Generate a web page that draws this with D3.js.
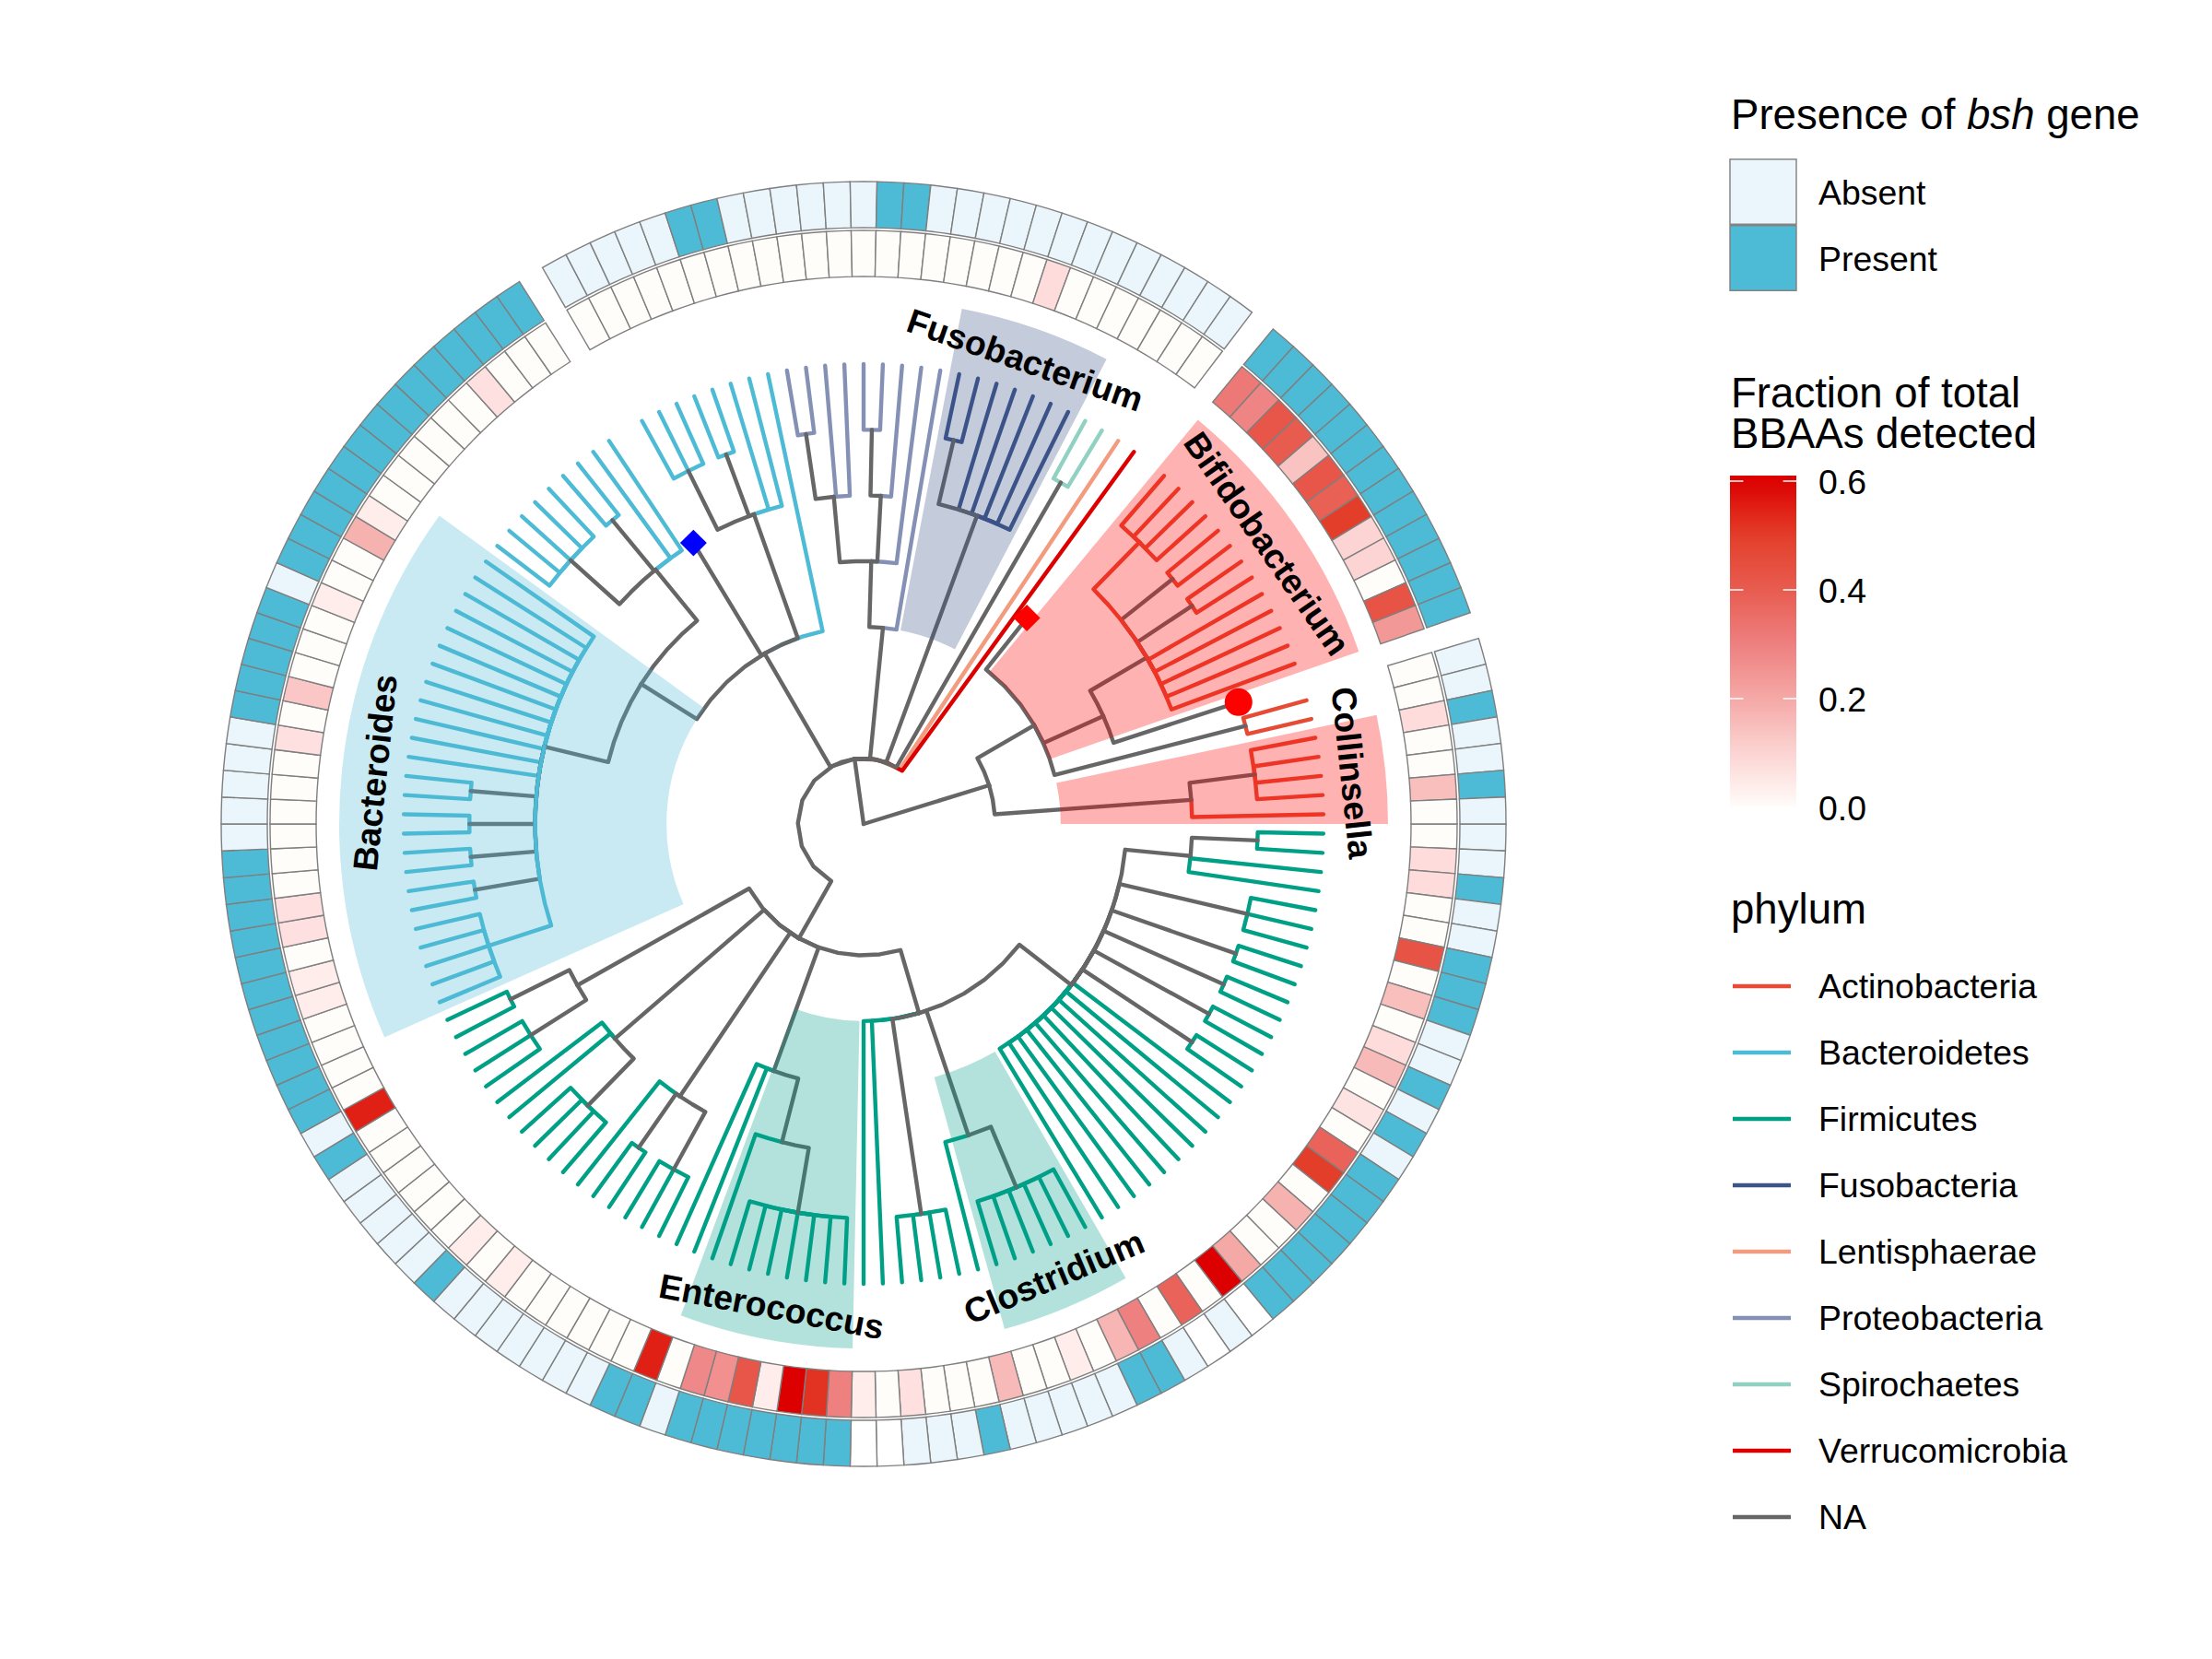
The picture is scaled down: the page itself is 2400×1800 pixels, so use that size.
<!DOCTYPE html>
<html>
<head>
<meta charset="utf-8">
<style>
html,body{margin:0;padding:0;background:#fff}
svg{display:block}
text{font-family:"Liberation Sans",Arial,sans-serif;fill:#000}
</style>
<script src="https://cdn.jsdelivr.net/npm/d3@7"></script>
</head>
<body>
<svg id="chart" width="2400" height="1800" viewBox="0 0 2400 1800"></svg>
<script>
// ---------- data ----------
const phylumNames  = ["Actinobacteria","Bacteroidetes","Firmicutes","Fusobacteria","Lentisphaerae","Proteobacteria","Spirochaetes","Verrucomicrobia","NA"];
const phylumColors = ["#E64B35","#4DBBD5","#00A087","#3C5488","#F39B7F","#8491B4","#91D1C2","#DC0000","#666666"];

// one value per leaf, clockwise from due east; null = no data for that leaf
const bbaaFraction = [
  0,.08,.08,0,0,.43,0,.15,0,.08,
  .16,0,.06,0,.38,.5,0,.18,0,0,
  .2,.6,0,.38,0,.3,.17,0,.04,0,
  0,.16,0,0,0,.07,0,.04,.3,.52,
  .6,.04,.42,.26,.28,0,.55,0,0,0,
  0,0,0,.04,0,.04,0,0,0,0,
  0,0,.55,0,0,0,0,.04,.04,0,
  .07,.07,0,0,0,0,0,0,.07,0,
  .13,0,0,0,.04,0,0,.18,.04,0,
  0,0,0,0,0,.07,0,0,0,null,
  0,0,0,0,0,0,0,0,0,0,
  0,0,0,0,0,0,0,0,0,0,
  .08,0,0,0,0,0,0,0,null,.32,
  .29,.42,.4,.14,.42,.39,.5,.1,.1,0,
  .43,.24,null,0,0,.08,0,0,.15,0
];
// A = absent, P = present, N = blank cell, - = no data
const bshStatus = Array.from(
  "AAPAAPPPAA"+"PAPAPPPPPP"+"PNANAPPAAA"+"AAPAAANNPP"+"PPPPPAPPAA"+
  "AAAAAPAAAA"+"APAPPPPPPP"+"PPPPAAAAAP"+"PPPPAPPPPP"+"PPPPPPPPP-"+
  "AAAAAPPAAA"+"AAAPPAAAAA"+"AAAAAAAA-P"+"PPPPPPPPPP"+"PP-AAPAAPA");
const bshLevels = ["Absent","Present"];
const bshFill   = {A:"#EAF6FB",P:"#4DBBD5",N:"#FFFFFF"};

// highlighted clades: first/last leaf (1-based) and inner tree level
const cladeNames  = ["Bacteroides","Fusobacterium","Bifidobacterium","Collinsella","Clostridium","Enterococcus"];
const cladeFirst  = [66,118,130,146,26,39];
const cladeLast   = [90,124,142,150,31,46];
const cladeLevel  = [3,3,3,3,4,3];
const cladeColor  = ["#4DBBD5","#3C5488","#FF0000","#FF0000","#00A087","#00A087"];

const heatTicks  = [0,.2,.4,.6];
const heatStops  = [0,.1,.2,.3,.4,.5,.6];
const heatColors = ["#FFFDFA","#FCD4D3","#F5A9A6","#EE8080","#E85C50","#E33E2A","#DC0000"];

// tree: node(level, phylum, ...children); leaves run clockwise from due east
const [Ac,Ba,Fi,Fu,Le,Pr,Sp,Ve,NA] = phylumNames;
const node = (level,phylum,...children)=>({level,phylum,children});
const tip  = (phylum,level=7,marker=null)=>({level,phylum,marker,tip:true});
const tips = (n,phylum)=>Array.from({length:n},()=>tip(phylum));

const firmA = node(4,NA,
  node(5,NA,node(6,NA,...tips(2,Fi)),...tips(2,Fi)),
  node(6,NA,...tips(3,Fi)),
  node(6,NA,...tips(2,Fi)),node(6,NA,...tips(2,Fi)),node(6,NA,...tips(2,Fi)),node(6,NA,...tips(2,Fi)),
  ...tips(10,Fi));
const firmB = node(3,NA,firmA,
  node(5,NA,node(6,NA,...tips(6,Fi)),tip(Fi)),
  node(6,NA,...tips(4,Fi)),tip(Fi),tip(Fi));
const firmC = node(4,NA,node(5,NA,node(6,NA,...tips(7,Fi)),tip(Fi)),tip(Fi),tip(Fi));
const firmD = node(5,NA,node(6,NA,...tips(3,Fi)),node(6,NA,...tips(2,Fi)),tip(Fi));
const firmE = node(5,NA,node(6,NA,...tips(4,Fi)),tip(Fi),tip(Fi));
const firmF = node(5,NA,node(6,NA,...tips(3,Fi)),node(6,NA,...tips(2,Fi)));
const firmicutes = node(2,NA,firmB,firmC,firmD,firmE,firmF);

const bactA = node(5,NA,node(6,Ba,...tips(5,Ba)),
  node(6,NA,...tips(2,Ba)),node(6,NA,...tips(2,Ba)),node(6,NA,...tips(2,Ba)),node(6,NA,...tips(2,Ba)),
  ...tips(12,Ba));
const bactB = node(5,NA,node(6,NA,...tips(5,Ba)),node(6,NA,...tips(2,Ba)),tip(Ba),tip(Ba));
const bactC = node(5,NA,node(6,NA,...tips(3,Ba)),node(6,NA,...tips(2,Ba)),tip(Ba),tip(Ba));
const bacteroidetes = node(3,NA,node(4,NA,bactA,bactB),tip(NA,5,"blueDiamond"),bactC,tip(Ba));

const proteo = node(3,NA,
  node(4,NA,
    node(5,NA,node(6,NA,...tips(2,Pr)),tip(Pr),tip(Pr)),
    node(5,NA,node(6,NA,...tips(2,Pr)),tip(Pr)),
    tip(Pr)),
  tip(Pr));
const fuso = node(5,NA,node(6,NA,...tips(2,Fu)),...tips(5,Fu));
const spiro = node(6,NA,...tips(2,Sp));

const bifido = node(5,NA,node(6,Ac,...tips(4,Ac)),node(6,NA,...tips(2,Ac)),node(6,NA,...tips(2,Ac)),...tips(5,Ac));
const actinoA = node(3,NA,tip(NA,4,"redDiamond"),node(4,NA,bifido,tip(NA,6,"redCircle")),node(6,NA,...tips(2,Ac)));
const actinoB = node(5,NA,node(6,NA,...tips(4,Ac)),tip(Ac));

const treeData = node(0,NA,
  node(1,NA,firmicutes,bacteroidetes,proteo,fuso,spiro,tip(Le),tip(Ve)),
  node(2,NA,actinoA,actinoB));

// ---------- scales ----------
const cx=937, cy=894;
const leafCount = bbaaFraction.length;
const angle  = d3.scaleLinear().domain([0,leafCount]).range([0,2*Math.PI]); // clockwise from east
const radius = d3.scaleLinear().domain([0,7]).range([0,499]);
const heat   = d3.scaleLinear().domain(heatStops).range(heatColors).interpolate(d3.interpolateRgb);
const phylumColor = d3.scaleOrdinal().domain(phylumNames).range(phylumColors);
const pt = (a,r)=>[r*Math.cos(a),r*Math.sin(a)];

const svg = d3.select("#chart");
const plot = svg.append("g").attr("transform",`translate(${cx},${cy})`);

// ---------- rings ----------
const ringArc = d3.arc();
function ring(values,inner,outer,fill){
  plot.append("g").selectAll("path")
    .data(values.map((v,i)=>({v,i})).filter(d=>d.v!==null && d.v!=="-"))
    .join("path")
    .attr("d",d=>ringArc({innerRadius:inner,outerRadius:outer,
        startAngle:angle(d.i)+Math.PI/2,endAngle:angle(d.i+1)+Math.PI/2}))
    .attr("fill",d=>fill(d.v))
    .attr("stroke","#7F7F7F").attr("stroke-width",1.4);
}
ring(bbaaFraction,594,644,v=>heat(v));
ring(bshStatus,647,697,v=>bshFill[v]);

// ---------- tree ----------
const root = d3.hierarchy(treeData);
root.leaves().forEach((l,i)=>{l.theta=angle(i+.5)});
root.eachAfter(n=>{ if(n.children) n.theta=d3.mean(n.children,c=>c.theta); });

function edgePath(n){
  const rp=radius(n.parent.data.level), rc=radius(n.data.level);
  const a0=n.parent.theta, a1=n.theta;
  const steps=Math.max(1,Math.ceil(Math.abs(a1-a0)*rp/27));
  const pts=d3.range(steps+1).map(i=>pt(a0+(a1-a0)*i/steps,rp));
  pts.push(pt(a1,rc));
  return d3.line()(pts);
}
const edges=root.descendants().filter(n=>n.parent);
const order=n=>n.data.tip?0:(n.data.phylum===NA?1:2);
plot.append("g").attr("fill","none").attr("stroke-width",4.4)
  .attr("stroke-linecap","round").attr("stroke-linejoin","round")
  .selectAll("path")
  .data(edges.slice().sort((a,b)=>order(a)-order(b)))
  .join("path")
  .attr("d",edgePath)
  .attr("stroke",n=>phylumColor(n.data.phylum));

// ---------- clade highlights ----------
const clades=cladeNames.map((name,i)=>({name,first:cladeFirst[i],last:cladeLast[i],level:cladeLevel[i],color:cladeColor[i]}));
plot.append("g").selectAll("path").data(clades).join("path")
  .attr("d",d=>ringArc({innerRadius:radius(d.level),outerRadius:569,
      startAngle:angle(d.first-1)+Math.PI/2,endAngle:angle(d.last)+Math.PI/2}))
  .attr("fill",d=>d.color).attr("fill-opacity",.3);

plot.append("g").selectAll("text").data(clades).join("text")
  .attr("transform",d=>{
    const a=angle((d.first-1+d.last)/2), [x,y]=pt(a,533), deg=a*180/Math.PI;
    const rot=(deg>0&&deg<180)?deg-90:deg-270;
    return `translate(${x},${y}) rotate(${rot})`;
  })
  .attr("text-anchor","middle").attr("dominant-baseline","central")
  .attr("font-weight","bold").attr("font-size",37.4)
  .text(d=>d.name);

// ---------- markers ----------
const symbolOf={blueDiamond:["#0000FF",d3.symbolSquare,420,45],redDiamond:["#FF0000",d3.symbolSquare,420,45],redCircle:["#FF0000",d3.symbolCircle,707,0]};
plot.append("g").selectAll("path")
  .data(root.leaves().filter(l=>l.data.marker))
  .join("path")
  .attr("transform",l=>{const [x,y]=pt(l.theta,radius(l.data.level));return `translate(${x},${y}) rotate(${symbolOf[l.data.marker][3]})`;})
  .attr("d",l=>d3.symbol().type(symbolOf[l.data.marker][1]).size(symbolOf[l.data.marker][2])())
  .attr("fill",l=>symbolOf[l.data.marker][0]);

// ---------- legends ----------
const lg=svg.append("g");
const keyX=1877, keyW=72, labelX=1973, titleSize=45.6, labelSize=37.4;

const t1=lg.append("text").attr("x",keyX+1).attr("y",139.5).attr("font-size",titleSize);
t1.append("tspan").text("Presence of ");
t1.append("tspan").attr("font-style","italic").text("bsh");
t1.append("tspan").text(" gene");

const bshY=d3.scaleBand().domain(bshLevels).range([172,316]);
lg.append("g").selectAll("rect").data(bshLevels).join("rect")
  .attr("x",keyX).attr("y",d=>bshY(d)+.75).attr("width",keyW).attr("height",bshY.bandwidth()-1.5)
  .attr("fill",d=>bshFill[d[0]]).attr("stroke","#7F7F7F").attr("stroke-width",1.4);
lg.append("g").selectAll("text").data(bshLevels).join("text")
  .attr("x",labelX).attr("y",d=>bshY(d)+bshY.bandwidth()/2+13.5).attr("font-size",labelSize).text(d=>d);

lg.append("text").attr("x",keyX+1).attr("y",441.5).attr("font-size",titleSize).text("Fraction of total");
lg.append("text").attr("x",keyX+1).attr("y",485.5).attr("font-size",titleSize).text("BBAAs detected");

const barY=d3.scaleLinear().domain([0,.6]).range([876,522]);
const barTop=516, barBottom=876;
const grad=svg.append("defs").append("linearGradient").attr("id","heatGrad")
  .attr("x1",0).attr("x2",0).attr("y1",0).attr("y2",1);
d3.range(0,21).forEach(i=>{
  const y=barTop+(barBottom-barTop)*i/20;
  grad.append("stop").attr("offset",i/20).attr("stop-color",heat(Math.min(.6,barY.invert(y))));
});
lg.append("rect").attr("x",keyX).attr("y",barTop).attr("width",keyW).attr("height",barBottom-barTop).attr("fill","url(#heatGrad)");
const tk=lg.append("g").attr("stroke","#fff").attr("stroke-width",1.5);
tk.selectAll("line.l").data(heatTicks.slice(1)).join("line").attr("class","l")
  .attr("x1",keyX).attr("x2",keyX+14.4).attr("y1",d=>barY(d)).attr("y2",d=>barY(d));
tk.selectAll("line.r").data(heatTicks.slice(1)).join("line").attr("class","r")
  .attr("x1",keyX+keyW-14.4).attr("x2",keyX+keyW).attr("y1",d=>barY(d)).attr("y2",d=>barY(d));
lg.append("g").selectAll("text").data(heatTicks).join("text")
  .attr("x",labelX).attr("y",d=>barY(d)+13.5).attr("font-size",labelSize).text(d=>d.toFixed(1));

lg.append("text").attr("x",keyX+1).attr("y",1001.5).attr("font-size",titleSize).text("phylum");
const legY=d3.scalePoint().domain(phylumNames).range([1070,1646]);
lg.append("g").selectAll("line").data(phylumNames).join("line")
  .attr("x1",keyX+3).attr("x2",keyX+66).attr("y1",d=>legY(d)).attr("y2",d=>legY(d))
  .attr("stroke",d=>phylumColor(d)).attr("stroke-width",4.4);
lg.append("g").selectAll("text").data(phylumNames).join("text")
  .attr("x",labelX).attr("y",d=>legY(d)+13).attr("font-size",labelSize).text(d=>d);
</script>
</body>
</html>
